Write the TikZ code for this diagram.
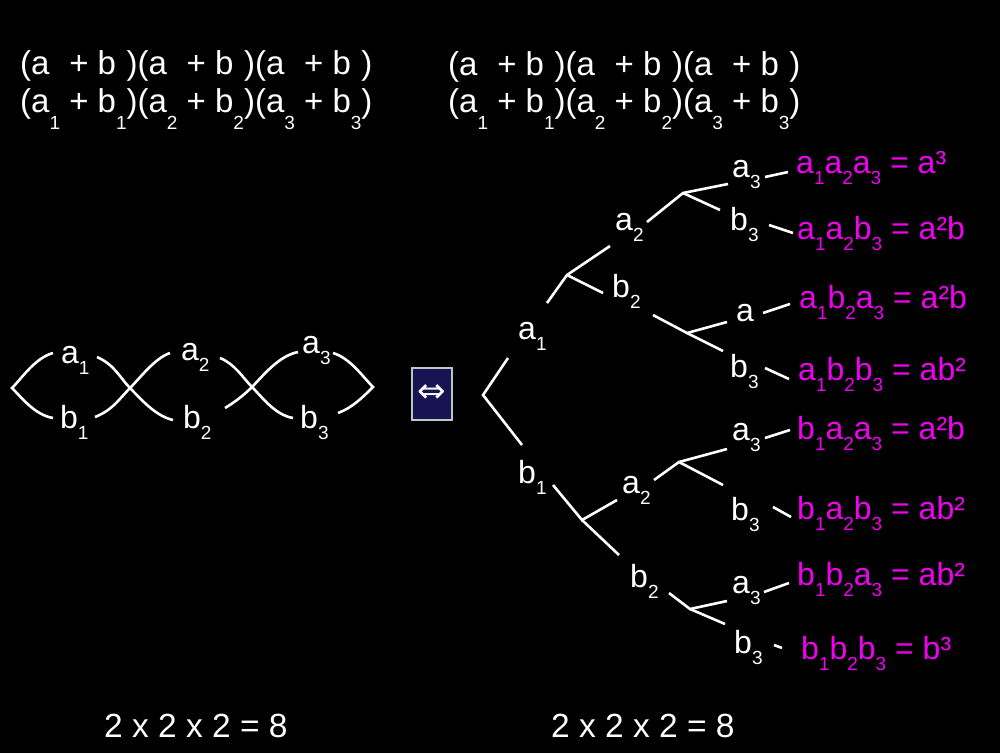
\documentclass[tikz,border=0pt]{standalone}
\usepackage{fontspec}
\setmainfont{Liberation Sans}
\newfontfamily\dejavu{DejaVu Sans}
\definecolor{mag}{RGB}{240,0,240}
\definecolor{navy}{RGB}{22,20,82}
\definecolor{boxgray}{RGB}{195,195,195}
\newcommand\sbx[2][11]{\raisebox{-#1pt}{\fontsize{19}{19}\selectfont #2}}
\newcommand\tsb[1]{\sbx[17]{#1}}
\newcommand\psb[1]{\phantom{\sbx[17]{#1}}}
\begin{document}
\begin{tikzpicture}[x=1pt,y=-1pt,
  lbl/.style={inner sep=0pt, anchor=base west, text=white, font=\fontsize{32}{38}\selectfont},
  big/.style={lbl, font=\fontsize{33}{38}\selectfont},
  res/.style={lbl, text=mag},
  ln/.style={draw=white, line width=2.6pt}]
\fill[black] (0,0) rectangle (1000,753);
\useasboundingbox (0,0) rectangle (1000,753);

% top formulas
\node[big] (tl1) at (20,74) {(a\psb1 + b\psb1)(a\psb2 + b\psb2)(a\psb3 + b\psb3)};
\node[big] (tl2) at (20,112) {(a\tsb1 + b\tsb1)(a\tsb2 + b\tsb2)(a\tsb3 + b\tsb3)};
\node[big] (tr1) at (448,75) {(a\psb1 + b\psb1)(a\psb2 + b\psb2)(a\psb3 + b\psb3)};
\node[big] (tr2) at (448,112) {(a\tsb1 + b\tsb1)(a\tsb2 + b\tsb2)(a\tsb3 + b\tsb3)};

% bottom
\node[lbl, font=\fontsize{33.5}{38}\selectfont] (bl) at (104,737) {2 x 2 x 2 = 8};
\node[lbl, font=\fontsize{33.5}{38}\selectfont] (br) at (551,737) {2 x 2 x 2 = 8};

% left lens labels
\node[lbl] (la1) at (61,363) {a\sbx1};
\node[lbl] (lb1) at (60,428) {b\sbx1};
\node[lbl] (la2) at (181,360) {a\sbx2};
\node[lbl] (lb2) at (183,428) {b\sbx2};
\node[lbl] (la3) at (302,353) {a\sbx3};
\node[lbl] (lb3) at (300,428) {b\sbx3};

\coordinate (L0) at (12,388);
\coordinate (X1) at (130,388);
\coordinate (X2) at (252,387);
\coordinate (R3) at (373,387);
\coordinate (la1w) at (53,353);  \coordinate (la1e) at (97,357);
\coordinate (lb1w) at (53,418);  \coordinate (lb1e) at (95,417);
\coordinate (la2w) at (170,353); \coordinate (la2e) at (220,358);
\coordinate (lb2w) at (173,420); \coordinate (lb2e) at (225,408);
\coordinate (la3w) at (298,352); \coordinate (la3e) at (333,353);
\coordinate (lb3w) at (293,418); \coordinate (lb3e) at (338,413);

\draw[ln] (la1w) .. controls (35,358) and (22,378) .. (L0) .. controls (22,398) and (35,415) .. (lb1w);
\draw[ln] (la1e) .. controls (115,365) and (120,378) .. (X1) .. controls (140,398) and (155,416) .. (lb2w);
\draw[ln] (lb1e) .. controls (113,410) and (120,398) .. (X1) .. controls (140,378) and (155,358) .. (la2w);
\draw[ln] (la2e) .. controls (235,364) and (243,378) .. (X2) .. controls (262,397) and (275,415) .. (lb3w);
\draw[ln] (lb2e) .. controls (235,402) and (244,395) .. (X2) .. controls (262,377) and (278,356) .. (la3w);
\draw[ln] (la3e) .. controls (350,358) and (363,377) .. (R3) .. controls (363,397) and (352,408) .. (lb3e);

% equivalence box
\node[draw=boxgray, fill=navy, line width=1.5pt, minimum width=40pt, minimum height=52pt, inner sep=0pt,
  text=white, font=\dejavu\fontsize{34}{34}\selectfont] (eq) at (432,394) {⇔};

% tree labels
\node[lbl] (ta1) at (518,339) {a\sbx1};
\node[lbl] (tb1) at (518,483) {b\sbx1};
\node[lbl] (ta2) at (615,230) {a\sbx2};
\node[lbl] (tb2) at (612,297) {b\sbx2};
\node[lbl] (ta3) at (732,177) {a\sbx3};
\node[lbl] (tb3) at (730,230) {b\sbx3};
\node[lbl] (ta4) at (736,321) {a};
\node[lbl] (tb4) at (730,377) {b\sbx3};
\node[lbl] (ta2l) at (622,493) {a\sbx2};
\node[lbl] (tb2l) at (630,587) {b\sbx2};
\node[lbl] (ta5) at (732,440) {a\sbx3};
\node[lbl] (tb6) at (731,520) {b\sbx3};
\node[lbl] (ta7) at (732,593) {a\sbx3};
\node[lbl] (tb8) at (734,653) {b\sbx3};

% results
\node[res] (r1) at (796,173) {a\sbx1a\sbx2a\sbx3 = a³};
\node[res] (r2) at (797,239) {a\sbx1a\sbx2b\sbx3 = a²b};
\node[res] (r3) at (799,308) {a\sbx1b\sbx2a\sbx3 = a²b};
\node[res] (r4) at (798,380) {a\sbx1b\sbx2b\sbx3 = ab²};
\node[res] (r5) at (797,439) {b\sbx1a\sbx2a\sbx3 = a²b};
\node[res] (r6) at (797,519) {b\sbx1a\sbx2b\sbx3 = ab²};
\node[res] (r7) at (797,585) {b\sbx1b\sbx2a\sbx3 = ab²};
\node[res] (r8) at (801,659) {b\sbx1b\sbx2b\sbx3 = b³};

% tree coordinates
\coordinate (root) at (483,395);
\coordinate (ta1in) at (508,358);
\coordinate (tb1in) at (522,445);
\coordinate (ta1out) at (547,303);
\coordinate (Ba1) at (567,275);
\coordinate (ta2in) at (610,246);
\coordinate (tb2in) at (603,293);
\coordinate (ta2out) at (647,222);
\coordinate (Ba2) at (683,193);
\coordinate (ta3in) at (728,184);
\coordinate (tb3in) at (720,210);
\coordinate (tb2out) at (653,315);
\coordinate (Bb2) at (687,333);
\coordinate (ta4in) at (727,322);
\coordinate (tb4in) at (723,351);
\coordinate (tb1out) at (553,485);
\coordinate (Bb1) at (582,520);
\coordinate (ta2lin) at (617,500);
\coordinate (tb2lin) at (619,555);
\coordinate (ta2lout) at (654,480);
\coordinate (Ba2l) at (679,462);
\coordinate (ta5in) at (727,449);
\coordinate (tb6in) at (723,485);
\coordinate (tb2lout) at (669,593);
\coordinate (Bb2l) at (690,609);
\coordinate (ta7in) at (727,601);
\coordinate (tb8in) at (725,624);

\draw[ln] (ta1in) -- (root) -- (tb1in);
\draw[ln] (ta1out) -- (Ba1) -- (ta2in);
\draw[ln] (Ba1) -- (tb2in);
\draw[ln] (ta2out) -- (Ba2) -- (ta3in);
\draw[ln] (Ba2) -- (tb3in);
\draw[ln] (tb2out) -- (Bb2) -- (ta4in);
\draw[ln] (Bb2) -- (tb4in);
\draw[ln] (tb1out) -- (Bb1) -- (ta2lin);
\draw[ln] (Bb1) -- (tb2lin);
\draw[ln] (ta2lout) -- (Ba2l) -- (ta5in);
\draw[ln] (Ba2l) -- (tb6in);
\draw[ln] (tb2lout) -- (Bb2l) -- (ta7in);
\draw[ln] (Bb2l) -- (tb8in);

% leaf-to-result connectors
\coordinate (c1a) at (765,177); \coordinate (c1b) at (788,172);
\coordinate (c2a) at (769,225); \coordinate (c2b) at (793,233);
\coordinate (c3a) at (763,313); \coordinate (c3b) at (790,304);
\coordinate (c4a) at (765,368); \coordinate (c4b) at (789,379);
\coordinate (c5a) at (765,438); \coordinate (c5b) at (790,430);
\coordinate (c6a) at (773,507); \coordinate (c6b) at (791,517);
\coordinate (c7a) at (764,592); \coordinate (c7b) at (789,583);
\coordinate (c8a) at (774,645); \coordinate (c8b) at (782,648);
\foreach \i in {1,...,8} { \draw[ln] (c\i a) -- (c\i b); }
\end{tikzpicture}
\end{document}
